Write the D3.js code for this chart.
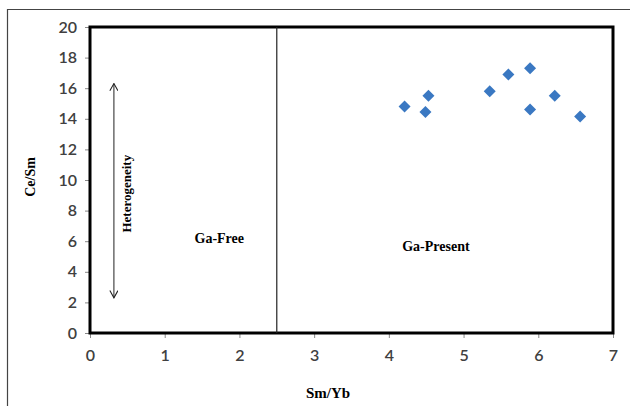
<!DOCTYPE html>
<html>
<head>
<meta charset="utf-8">
<script src="https://cdn.jsdelivr.net/npm/d3@7"></script>
<style>
  body { margin: 0; background: #fff; }
  svg { display: block; }
</style>
</head>
<body>
<svg width="630" height="406"></svg>
<script>
// Sm/Yb vs Ce/Sm samples
const smYb = [4.21, 4.53, 4.49, 5.35, 5.60, 5.89, 5.89, 6.22, 6.56];
const ceSm = [14.8, 15.5, 14.45, 15.8, 16.9, 17.3, 14.6, 15.5, 14.15];
const xTicks = [0, 1, 2, 3, 4, 5, 6, 7];
const yTicks = [0, 2, 4, 6, 8, 10, 12, 14, 16, 18, 20];
const boundary = 2.5;
const zoneLabels = ["Ga-Free", "Ga-Present"];
const zoneX = [1.73, 4.63];
const zoneY = [6.2, 5.7];
const hetero = { x: 0.32, y0: 2.3, y1: 16.3 };

const svg = d3.select("svg");
const margin = {left: 90, right: 17, top: 27, bottom: 73};
const width = 630, height = 406;

const x = d3.scaleLinear().domain([0, 7]).range([margin.left, width - margin.right]);
const y = d3.scaleLinear().domain([0, 20]).range([height - margin.bottom, margin.top]);

// outer chart frame (cut off on right and bottom)
svg.append("path")
    .attr("d", `M7.5,${height} L7.5,9.5 L${width},9.5`)
    .attr("fill", "none")
    .attr("stroke", "#444")
    .attr("stroke-width", 1.2);

const tickFont = "Lato, 'Open Sans', sans-serif";

const xAxis = svg.append("g")
    .attr("transform", `translate(0,${y(0)})`)
    .call(d3.axisBottom(x).tickValues(xTicks).tickSize(5).tickPadding(12).tickFormat(d3.format("d")));
const yAxis = svg.append("g")
    .attr("transform", `translate(${x(0)},0)`)
    .call(d3.axisLeft(y).tickValues(yTicks).tickSize(5).tickPadding(8).tickFormat(d3.format("d")));

[xAxis, yAxis].forEach(g => {
    g.select(".domain").remove();
    g.selectAll(".tick line").attr("stroke", "#888");
    g.selectAll(".tick text")
        .attr("fill", "#404040")
        .style("font-family", tickFont)
        .style("font-weight", "600")
        .style("font-size", "16px");
});

// plot frame
svg.append("rect")
    .attr("x", x(0))
    .attr("y", y(20))
    .attr("width", x(7) - x(0))
    .attr("height", y(0) - y(20))
    .attr("fill", "none")
    .attr("stroke", "#000")
    .attr("stroke-width", 3);

// Ga-free / Ga-present boundary
svg.append("line")
    .attr("x1", x(boundary)).attr("x2", x(boundary))
    .attr("y1", y(20)).attr("y2", y(0))
    .attr("stroke", "#222")
    .attr("stroke-width", 1.2);

// heterogeneity double arrow
svg.append("defs").append("marker")
    .attr("id", "head")
    .attr("viewBox", "0 0 10 10")
    .attr("refX", 9).attr("refY", 5)
    .attr("markerWidth", 9).attr("markerHeight", 9)
    .attr("markerUnits", "userSpaceOnUse")
    .attr("orient", "auto-start-reverse")
    .append("path")
    .attr("d", "M1,0.5 L9,5 L1,9.5")
    .attr("fill", "none")
    .attr("stroke", "#222")
    .attr("stroke-width", 1.2);

svg.append("line")
    .attr("x1", x(hetero.x)).attr("x2", x(hetero.x))
    .attr("y1", y(hetero.y0)).attr("y2", y(hetero.y1))
    .attr("stroke", "#222")
    .attr("stroke-width", 1)
    .attr("marker-start", "url(#head)")
    .attr("marker-end", "url(#head)");

const serif = "'Liberation Serif', 'DejaVu Serif', serif";

svg.append("text")
    .attr("transform", `translate(${x(hetero.x) + 13},${(y(hetero.y0) + y(hetero.y1)) / 2 + 3}) rotate(-90)`)
    .attr("text-anchor", "middle")
    .attr("dy", "0.35em")
    .style("font-family", serif)
    .style("font-weight", "bold")
    .style("font-size", "13px")
    .text("Heterogeneity");

svg.selectAll(".zone")
    .data(zoneLabels)
    .join("text")
    .attr("class", "zone")
    .attr("x", (d, i) => x(zoneX[i]))
    .attr("y", (d, i) => y(zoneY[i]))
    .attr("text-anchor", "middle")
    .attr("dy", "0.35em")
    .style("font-family", serif)
    .style("font-weight", "bold")
    .style("font-size", "14px")
    .text(d => d);

// points
svg.append("g")
    .selectAll("path")
    .data(smYb)
    .join("path")
    .attr("d", d3.symbol().type(d3.symbolSquare).size(72))
    .attr("transform", (d, i) => `translate(${x(d)},${y(ceSm[i])}) rotate(45)`)
    .attr("fill", "#3a78c2");

// axis titles
svg.append("text")
    .attr("x", 328)
    .attr("y", 398)
    .attr("text-anchor", "middle")
    .style("font-family", serif)
    .style("font-weight", "bold")
    .style("font-size", "15px")
    .text("Sm/Yb");

svg.append("text")
    .attr("transform", `translate(30,177) rotate(-90)`)
    .attr("text-anchor", "middle")
    .attr("dy", "0.35em")
    .style("font-family", serif)
    .style("font-weight", "bold")
    .style("font-size", "14px")
    .text("Ce/Sm");
</script>
</body>
</html>
